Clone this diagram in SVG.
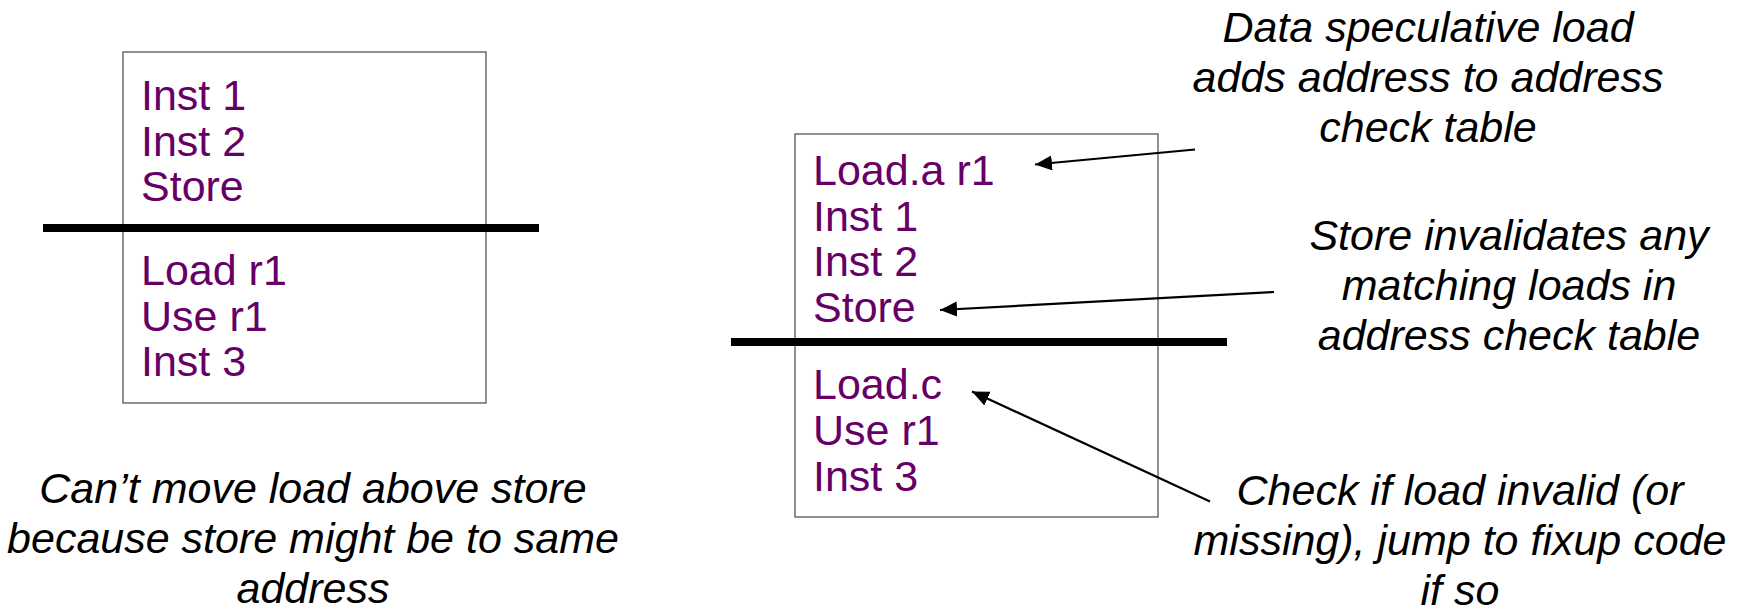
<svg xmlns="http://www.w3.org/2000/svg" width="1740" height="610" viewBox="0 0 1740 610">
<style>
.box{fill:#fff;stroke:#555;stroke-width:1.3}
.bar{stroke:#000;stroke-width:8}
.code{font-family:"Liberation Sans",Arial,sans-serif;font-size:43px;fill:#660066}
.note{font-family:"Liberation Sans",Arial,sans-serif;font-size:43px;font-style:italic;fill:#000;text-anchor:middle}
.conn{stroke:#000;stroke-width:2.2;fill:none;marker-end:url(#ah)}
</style>
<defs>
<marker id="ah" markerUnits="userSpaceOnUse" markerWidth="18" markerHeight="16" refX="17" refY="7.5" orient="auto">
<path d="M0,0 L17,7.5 L0,15 z" fill="#000"/>
</marker>
</defs>
<rect width="1740" height="610" fill="#fff"/>
<g id="left-box">
<rect class="box" x="123" y="52" width="363" height="351"/>
<line class="bar" x1="43" y1="228" x2="539" y2="228"/>
<text class="code" x="141" y="110">Inst 1</text>
<text class="code" x="141" y="155.5">Inst 2</text>
<text class="code" x="141" y="201">Store</text>
<text class="code" x="141" y="285">Load r1</text>
<text class="code" x="141" y="330.5">Use r1</text>
<text class="code" x="141" y="376">Inst 3</text>
</g>
<g id="left-caption">
<text class="note" x="313" y="503">Can’t move load above store</text>
<text class="note" x="313" y="553">because store might be to same</text>
<text class="note" x="313" y="603">address</text>
</g>
<g id="right-box">
<rect class="box" x="795" y="134" width="363" height="383"/>
<line class="bar" x1="731" y1="342" x2="1227" y2="342"/>
<text class="code" x="813" y="185">Load.a r1</text>
<text class="code" x="813" y="230.7">Inst 1</text>
<text class="code" x="813" y="276.4">Inst 2</text>
<text class="code" x="813" y="322">Store</text>
<text class="code" x="813" y="399.3">Load.c</text>
<text class="code" x="813" y="445">Use r1</text>
<text class="code" x="813" y="490.7">Inst 3</text>
</g>
<g id="note-load-a">
<text class="note" x="1428" y="42">Data speculative load</text>
<text class="note" x="1428" y="92">adds address to address</text>
<text class="note" x="1428" y="142">check table</text>
</g>
<g id="note-store">
<text class="note" x="1509" y="250">Store invalidates any</text>
<text class="note" x="1509" y="300">matching loads in</text>
<text class="note" x="1509" y="350">address check table</text>
</g>
<g id="note-load-c">
<text class="note" x="1460" y="505">Check if load invalid (or</text>
<text class="note" x="1460" y="555">missing), jump to fixup code</text>
<text class="note" x="1460" y="605">if so</text>
</g>
<g id="connectors">
<line class="conn" x1="1195" y1="149.5" x2="1035" y2="164.5"/>
<line class="conn" x1="1274" y1="292" x2="940" y2="310"/>
<line class="conn" x1="1210" y1="501.5" x2="972" y2="391.5"/>
</g>
</svg>
